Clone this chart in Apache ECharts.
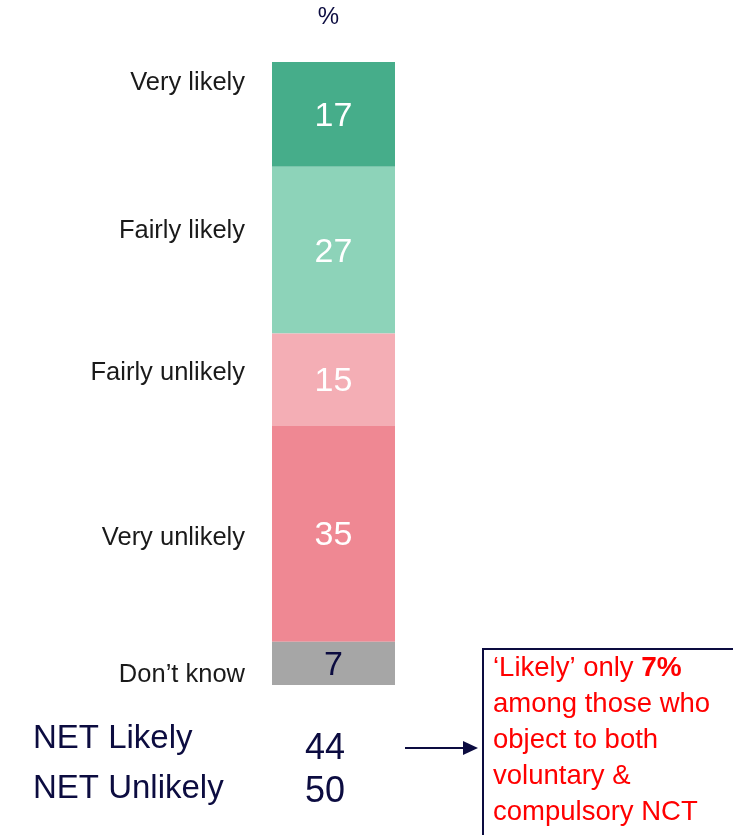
<!DOCTYPE html>
<html>
<head>
<meta charset="utf-8">
<script src="https://cdn.jsdelivr.net/npm/echarts@6/dist/echarts.min.js"></script>
<style>
  html, body { margin: 0; padding: 0; background: #ffffff; }
  #chart { width: 733px; height: 835px; }
</style>
</head>
<body>
<div id="chart"></div>
<script>
// Response categories, top to bottom, and their shares (%)
var categories = ['Very likely', 'Fairly likely', 'Fairly unlikely', 'Very unlikely', 'Don\u2019t know'];
var values = [17, 27, 15, 35, 7];
var netLabels = ['NET Likely', 'NET Unlikely'];
var calloutLines = ['among those who', 'object to both', 'voluntary &', 'compulsory NCT'];
var calloutValue = 7;

var colors = ['#46ad8a', '#8dd3b9', '#f4aeb5', '#ef8893', '#a6a6a6'];
var valueColors = ['#ffffff', '#ffffff', '#ffffff', '#ffffff', '#0c0c40'];
var nameOffsets = [-31, -19, -7, 4, 12];
var NAVY = '#0c0c40';
var SANS = 'Liberation Sans, Arial, sans-serif';

var total = values.reduce(function (a, b) { return a + b; }, 0);
var netValues = [values[0] + values[1], values[2] + values[3]];

var series = [];
// Visible segments with the value inside
categories.forEach(function (name, i) {
  series.push({
    name: name,
    type: 'bar',
    stack: 'share',
    barWidth: '100%',
    data: [values[i]],
    itemStyle: { color: colors[i] },
    label: {
      show: true,
      position: 'inside',
      offset: [0, 2],
      color: valueColors[i],
      fontSize: 34,
      fontFamily: SANS,
      formatter: '{c}'
    },
    silent: true
  });
});
// Transparent twin stack carrying the category names on the left
categories.forEach(function (name, i) {
  series.push({
    name: name + ' label',
    type: 'bar',
    stack: 'names',
    barWidth: '100%',
    barGap: '-100%',
    data: [values[i]],
    itemStyle: { color: 'rgba(0,0,0,0)' },
    label: {
      show: true,
      position: 'left',
      distance: 27,
      offset: [0, nameOffsets[i]],
      color: '#1a1a1a',
      fontSize: 25.5,
      fontFamily: SANS,
      formatter: name
    },
    silent: true
  });
});

var chart = echarts.init(document.getElementById('chart'), null, { renderer: 'canvas' });

chart.setOption({
  animation: false,
  backgroundColor: '#ffffff',
  grid: { left: 272, top: 62, width: 123, height: 623, containLabel: false },
  xAxis: {
    type: 'category',
    data: ['%'],
    position: 'top',
    axisLine: { show: false },
    axisTick: { show: false },
    axisLabel: {
      show: true,
      margin: 33,
      padding: [0, 10, 0, 0],
      color: NAVY,
      fontSize: 24,
      fontFamily: SANS
    }
  },
  yAxis: {
    type: 'value',
    inverse: true,
    min: 0,
    max: total,
    show: false
  },
  series: series,
  graphic: [
    {
      type: 'text', left: 33, top: 722,
      style: { text: netLabels[0], fill: NAVY, font: '33px "Liberation Sans", Arial, sans-serif' }
    },
    {
      type: 'text', left: 33, top: 772,
      style: { text: netLabels[1], fill: NAVY, font: '33px "Liberation Sans", Arial, sans-serif' }
    },
    {
      type: 'text', x: 325, y: 749,
      style: { text: String(netValues[0]), fill: NAVY, align: 'center', verticalAlign: 'middle',
               font: '36px "Liberation Sans", Arial, sans-serif' }
    },
    {
      type: 'text', x: 325, y: 792,
      style: { text: String(netValues[1]), fill: NAVY, align: 'center', verticalAlign: 'middle',
               font: '36px "Liberation Sans", Arial, sans-serif' }
    },
    // Arrow pointing to the callout
    {
      type: 'line',
      shape: { x1: 405, y1: 748, x2: 464, y2: 748 },
      style: { stroke: NAVY, lineWidth: 2 }
    },
    {
      type: 'polygon',
      shape: { points: [[463, 741], [478, 748], [463, 755]] },
      style: { fill: NAVY }
    },
    // Callout box
    {
      type: 'rect',
      shape: { x: 483, y: 649, width: 280, height: 220 },
      style: { fill: '#ffffff', stroke: NAVY, lineWidth: 2 }
    },
    {
      type: 'text', x: 493, y: 650,
      style: {
        text: '{n|\u2018Likely\u2019 only }{b|' + calloutValue + '%}\n' +
              calloutLines.map(function (l) { return '{n|' + l + '}'; }).join('\n'),
        rich: {
          n: { fill: '#ff0000', fontSize: 27.5, lineHeight: 36, fontFamily: SANS },
          b: { fill: '#ff0000', fontSize: 28, lineHeight: 36, fontWeight: 'bold', fontFamily: SANS }
        }
      }
    }
  ]
});
</script>
</body>
</html>
